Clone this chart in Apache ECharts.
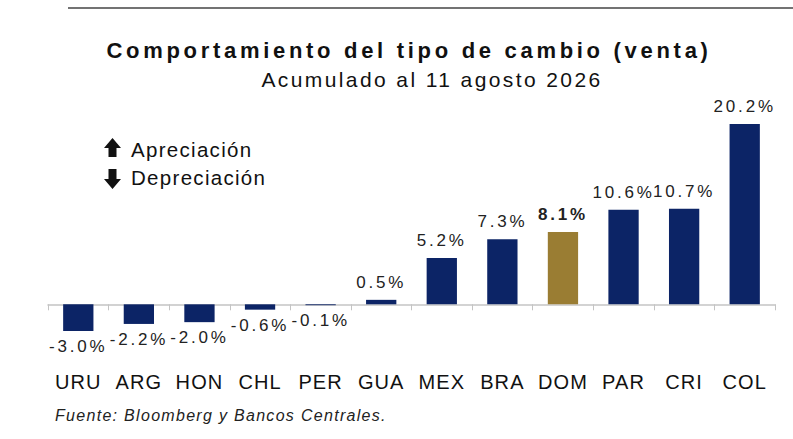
<!DOCTYPE html>
<html>
<head>
  <meta charset="utf-8">
  <script src="https://cdn.jsdelivr.net/npm/echarts@6/dist/echarts.min.js"></script>
  <style>
    html, body { margin: 0; padding: 0; background: #fff; }
    #id_chart { width: 793px; height: 439px; }
    /* espaciado de letras como en el original */
    #id_chart text[style*="22px"] { letter-spacing: 3.7px; }
    #id_chart text[style*="21px"] { letter-spacing: 2.4px; }
    #id_chart text[style*="20.5px"] { letter-spacing: 1.3px; }
    #id_chart text[style*="20px"] { letter-spacing: 1.1px; }
    #id_chart text[style*="17px"] { letter-spacing: 2.8px; }
    #id_chart text[style*="16px"] { letter-spacing: 1.3px; }
  </style>
</head>
<body>
  <div id="id_chart"></div>
  <script type="text/javascript">
    // datos del grafico
    var paises = ['URU', 'ARG', 'HON', 'CHL', 'PER', 'GUA', 'MEX', 'BRA', 'DOM', 'PAR', 'CRI', 'COL'];
    var variacion = [-3.0, -2.2, -2.0, -0.6, -0.1, 0.5, 5.2, 7.3, 8.1, 10.6, 10.7, 20.2];
    var destacado = 'DOM';

    var azul = '#0c2466';
    var dorado = '#9a7d33';

    var serieData = [];
    for (var i = 0; i < paises.length; i++) {
      var v = variacion[i];
      var esDom = paises[i] === destacado;
      serieData.push({
        value: v,
        itemStyle: { color: esDom ? dorado : azul },
        label: {
          position: v < 0 ? 'bottom' : 'top',
          distance: v < 0 ? 7 : 9,
          fontWeight: esDom ? 'bold' : 'normal'
        }
      });
    }

    var myChart = echarts.init(document.getElementById('id_chart'), null, { renderer: 'svg' });
    var option = {
      animation: false,
      grid: { left: 48, right: 18, top: 108, bottom: 99 },
      xAxis: {
        type: 'category',
        data: paises,
        axisLine: { onZero: true, lineStyle: { color: '#c4c4c4', width: 1.5 } },
        axisTick: { show: true, length: 6, lineStyle: { color: '#c4c4c4' } },
        axisLabel: {
          interval: 0,
          hideOverlap: false,
          margin: 32,
          color: '#111',
          fontSize: 20,
          fontFamily: 'Liberation Sans'
        }
      },
      yAxis: {
        type: 'value',
        min: -4,
        max: 22,
        show: false,
        splitLine: { show: false }
      },
      series: [{
        type: 'bar',
        barWidth: '50%',
        data: serieData,
        label: {
          show: true,
          color: '#222',
          fontSize: 17,
          fontFamily: 'Liberation Sans',
          formatter: function (p) { return p.value.toFixed(1) + '%'; }
        }
      }],
      graphic: [
        { type: 'line', shape: { x1: 68, y1: 8, x2: 793, y2: 8 }, style: { stroke: '#444', lineWidth: 1.5 } },
        {
          type: 'text', x: 409, y: 50,
          style: { text: 'Comportamiento del tipo de cambio (venta)', fill: '#111',
            font: 'bold 22px "Liberation Sans"', textAlign: 'center', textVerticalAlign: 'middle' }
        },
        {
          type: 'text', x: 432, y: 79,
          style: { text: 'Acumulado al 11 agosto 2026', fill: '#111',
            font: '21px "Liberation Sans"', textAlign: 'center', textVerticalAlign: 'middle' }
        },
        // flechas de la leyenda
        { type: 'polygon', shape: { points: [[104, 148], [112.5, 138], [121, 148], [116.5, 148], [116.5, 157], [108.5, 157], [108.5, 148]] }, style: { fill: '#111' } },
        { type: 'polygon', shape: { points: [[108.5, 169], [116.5, 169], [116.5, 179], [121, 179], [112.5, 189], [104, 179], [108.5, 179]] }, style: { fill: '#111' } },
        { type: 'text', x: 131, y: 149.5, style: { text: 'Apreciación', fill: '#111', font: '20.5px "Liberation Sans"', textVerticalAlign: 'middle' } },
        { type: 'text', x: 131, y: 177, style: { text: 'Depreciación', fill: '#111', font: '20.5px "Liberation Sans"', textVerticalAlign: 'middle' } },
        { type: 'text', x: 55, y: 415, style: { text: 'Fuente: Bloomberg y Bancos Centrales.', fill: '#222',
            font: 'italic 16px "Liberation Sans"', textVerticalAlign: 'middle' } }
      ]
    };
    myChart.setOption(option);
  </script>
</body>
</html>
